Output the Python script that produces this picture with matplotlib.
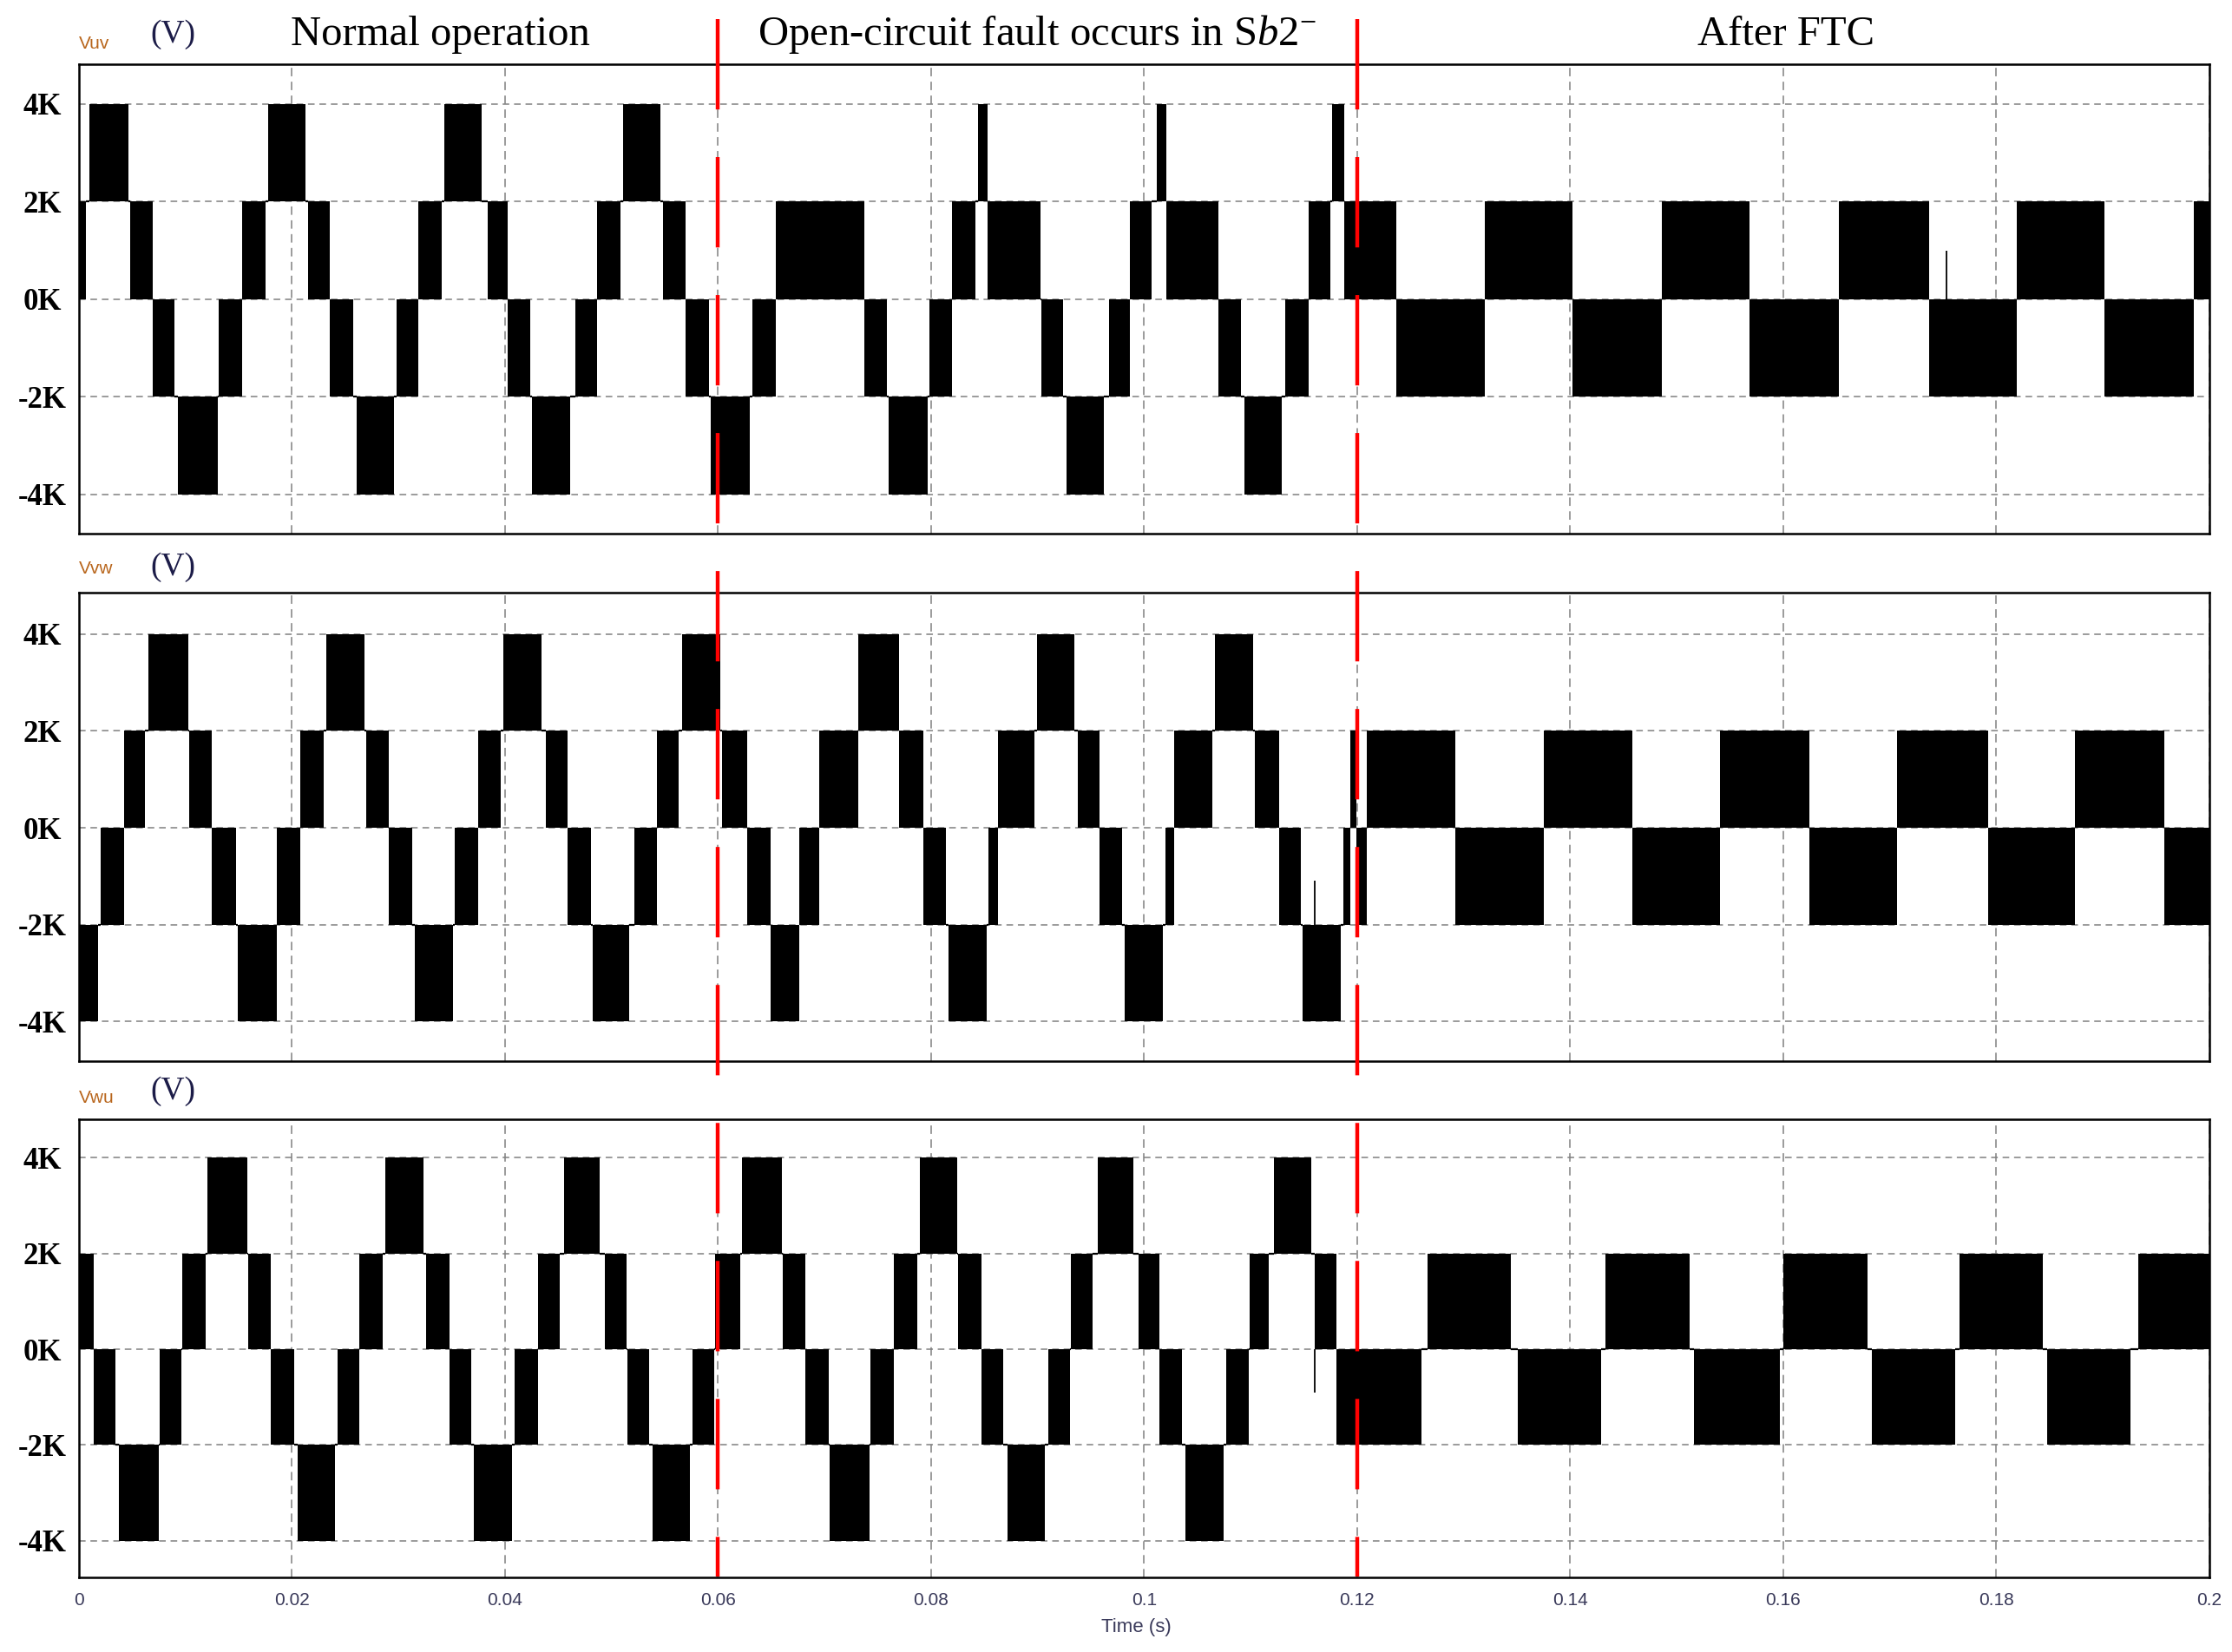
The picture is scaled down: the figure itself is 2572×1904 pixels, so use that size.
import numpy as np
import matplotlib
matplotlib.use('Agg')
import matplotlib.pyplot as plt
from matplotlib import transforms
from matplotlib.lines import Line2D


plt.rcParams['lines.scale_dashes'] = False
plt.rcParams['mathtext.fontset'] = 'custom'
plt.rcParams['mathtext.rm'] = 'Liberation Serif'
plt.rcParams['mathtext.it'] = 'Liberation Serif:italic'

# PWM switching bands: (start ms, end ms, low kV, high kV)
vuv_blocks = [
    (0.0, 0.67, 0, 2), (1.03, 4.69, 2, 4), (4.83, 7.0, 0, 2), (7.0, 8.98, -2, 0),
    (9.29, 13.05, -4, -2), (13.14, 15.33, -2, 0), (15.33, 17.52, 0, 2), (17.78, 21.31, 2, 4),
    (21.58, 23.57, 0, 2), (23.57, 25.78, -2, 0), (26.09, 29.62, -4, -2), (29.85, 31.88, -2, 0),
    (31.88, 34.05, 0, 2), (34.36, 37.85, 2, 4), (38.43, 40.3, 0, 2), (40.3, 42.36, -2, 0),
    (42.58, 46.16, -4, -2), (46.6, 48.7, -2, 0), (48.7, 50.85, 0, 2), (51.07, 54.6, 2, 4),
    (54.87, 56.97, 0, 2), (56.97, 59.2, -2, 0), (59.3, 63.03, -4, -2), (63.25, 65.45, -2, 0),
    (65.45, 73.72, 0, 2), (73.72, 75.9, -2, 0), (76.04, 79.73, -4, -2), (79.82, 81.95, -2, 0),
    (81.95, 84.19, 0, 2), (84.45, 85.35, 2, 4), (85.35, 90.29, 0, 2), (90.38, 92.43, -2, 0),
    (92.69, 96.21, -4, -2), (96.7, 98.68, -2, 0), (98.68, 100.67, 0, 2), (101.16, 102.1, 2, 4),
    (102.1, 106.95, 0, 2), (106.95, 109.13, -2, 0), (109.4, 112.96, -4, -2), (113.23, 115.43, -2, 0),
    (115.43, 117.46, 0, 2), (117.68, 118.8, 2, 4), (118.8, 123.67, 0, 2), (123.67, 132.0, -2, 0),
    (132.0, 140.25, 0, 2), (140.25, 148.6, -2, 0), (148.6, 156.8, 0, 2), (156.8, 165.2, -2, 0),
    (165.2, 173.7, 0, 2), (173.7, 181.9, -2, 0), (181.9, 190.15, 0, 2), (190.15, 198.5, -2, 0),
    (198.5, 200.0, 0, 2),
]

vvw_blocks = [
    (0.0, 1.79, -4, -2), (2.06, 4.25, -2, 0), (4.25, 6.26, 0, 2), (6.52, 10.28, 2, 4),
    (10.37, 12.5, 0, 2), (12.5, 14.75, -2, 0), (14.97, 18.59, -4, -2), (18.63, 20.8, -2, 0),
    (20.8, 23.01, 0, 2), (23.28, 26.85, 2, 4), (27.03, 29.1, 0, 2), (29.1, 31.28, -2, 0),
    (31.55, 35.12, -4, -2), (35.34, 37.5, -2, 0), (37.5, 39.59, 0, 2), (39.86, 43.43, 2, 4),
    (43.83, 45.9, 0, 2), (45.9, 48.08, -2, 0), (48.26, 51.7, -4, -2), (52.14, 54.3, -2, 0),
    (54.3, 56.34, 0, 2), (56.61, 60.2, 2, 4), (60.41, 62.75, 0, 2), (62.75, 64.94, -2, 0),
    (64.99, 67.65, -4, -2), (67.65, 69.5, -2, 0), (69.5, 73.18, 0, 2), (73.18, 77.02, 2, 4),
    (77.02, 79.25, 0, 2), (79.25, 81.43, -2, 0), (81.69, 85.26, -4, -2), (85.39, 86.33, -2, 0),
    (86.33, 89.71, 0, 2), (89.93, 93.5, 2, 4), (93.76, 95.86, 0, 2), (95.86, 97.91, -2, 0),
    (98.17, 101.74, -4, -2), (102.0, 102.8, -2, 0), (102.8, 106.41, 0, 2), (106.64, 110.2, 2, 4),
    (110.42, 112.65, 0, 2), (112.65, 114.7, -2, 0), (114.88, 118.44, -4, -2), (118.7, 119.4, -2, 0),
    (119.4, 119.9, 0, 2), (119.9, 120.9, -2, 0), (120.9, 129.25, 0, 2), (129.25, 137.55, -2, 0),
    (137.55, 145.8, 0, 2), (145.8, 154.1, -2, 0), (154.1, 162.45, 0, 2), (162.45, 170.7, -2, 0),
    (170.7, 179.2, 0, 2), (179.2, 187.4, -2, 0), (187.4, 195.8, 0, 2), (195.8, 200.0, -2, 0),
]

vwu_blocks = [
    (0.0, 1.39, 0, 2), (1.39, 3.49, -2, 0), (3.75, 7.51, -4, -2), (7.6, 9.65, -2, 0),
    (9.74, 11.97, 0, 2), (12.11, 15.82, 2, 4), (15.91, 18.07, 0, 2), (18.07, 20.24, -2, 0),
    (20.55, 24.08, -4, -2), (24.31, 26.32, -2, 0), (26.32, 28.51, 0, 2), (28.82, 32.35, 2, 4),
    (32.62, 34.83, 0, 2), (34.83, 36.82, -2, 0), (37.09, 40.66, -4, -2), (40.93, 43.1, -2, 0),
    (43.1, 45.13, 0, 2), (45.53, 48.93, 2, 4), (49.37, 51.43, 0, 2), (51.52, 53.57, -2, 0),
    (53.84, 57.37, -4, -2), (57.64, 59.65, -2, 0), (59.78, 62.14, 0, 2), (62.23, 66.01, 2, 4),
    (66.1, 68.24, 0, 2), (68.24, 70.42, -2, 0), (70.51, 74.25, -4, -2), (74.3, 76.5, -2, 0),
    (76.5, 78.71, 0, 2), (78.98, 82.49, 2, 4), (82.58, 84.75, 0, 2), (84.75, 86.82, -2, 0),
    (87.22, 90.73, -4, -2), (91.0, 93.05, -2, 0), (93.1, 95.19, 0, 2), (95.68, 98.98, 2, 4),
    (99.47, 101.47, 0, 2), (101.47, 103.56, -2, 0), (103.88, 107.48, -4, -2), (107.71, 109.8, -2, 0),
    (109.89, 111.67, 0, 2), (112.2, 115.72, 2, 4), (115.99, 118.04, 0, 2), (118.04, 126.06, -2, 0),
    (126.6, 134.41, 0, 2), (135.09, 142.9, -2, 0), (143.3, 151.2, 0, 2), (151.6, 159.7, -2, 0),
    (160.0, 167.9, 0, 2), (168.3, 176.1, -2, 0), (176.5, 184.4, 0, 2), (184.8, 192.6, -2, 0),
    (193.3, 200.0, 0, 2),
]

# single glitches: (time ms, from kV, to kV)
vuv_spikes = [(175.3, 0, 1.0)]
vvw_spikes = [(116.0, -2, -1.1)]
vwu_spikes = [(116.0, 0, -0.9)]

channel_names = ['Vuv', 'Vvw', 'Vwu']
y_ticks = [4000, 2000, 0, -2000, -4000]
y_tick_labels = ['4K', '2K', '0K', '-2K', '-4K']
x_ticks = [0, 0.02, 0.04, 0.06, 0.08, 0.1, 0.12, 0.14, 0.16, 0.18, 0.2]
event_times = [0.06, 0.12]
stage_labels = ['Normal operation', r'Open-circuit fault occurs in S$b2^{-}$', 'After FTC']
stage_x = [0.1971, 0.4646, 0.8002]


def draw_pwm(ax, blocks, spikes):
    t0 = np.array([b[0] for b in blocks]) / 1000
    t1 = np.array([b[1] for b in blocks]) / 1000
    lo = np.array([b[2] for b in blocks]) * 1000.0
    hi = np.array([b[3] for b in blocks]) * 1000.0
    ax.bar(t0, hi - lo, width=t1 - t0, bottom=lo, align='edge',
           color='black', linewidth=0, zorder=3)
    # output holds the shared level between two switching bands
    for i in range(len(blocks) - 1):
        if t0[i + 1] > t1[i]:
            shared = {lo[i], hi[i]} & {lo[i + 1], hi[i + 1]}
            level = shared.pop() if shared else (hi[i] + lo[i + 1]) / 2
            ax.hlines(level, t1[i], t0[i + 1], color='black', lw=1.6, zorder=3)
    for t, a, b in spikes:
        ax.vlines(t / 1000, a * 1000, b * 1000, color='black', lw=1.3, zorder=3)


fig = plt.figure(figsize=(25.72, 19.04), dpi=100)

axes_rect = [
    [0.0352, 0.6770, 0.9547, 0.2841],
    [0.0352, 0.3577, 0.9547, 0.2836],
    [0.0352, 0.0452, 0.9547, 0.2773],
]
y_limits = [(-4807, 4816), (-4815, 4854), (-4763, 4804)]
name_y = [0.9706, 0.6528, 0.3325]
unit_y = [0.9790, 0.6565, 0.3393]

all_blocks = [vuv_blocks, vvw_blocks, vwu_blocks]
all_spikes = [vuv_spikes, vvw_spikes, vwu_spikes]

axes = []
for i in range(3):
    ax = fig.add_axes(axes_rect[i])
    draw_pwm(ax, all_blocks[i], all_spikes[i])
    ax.set_xlim(0, 0.2)
    ax.set_ylim(*y_limits[i])
    ax.set_xticks(x_ticks)
    ax.set_yticks(y_ticks)
    ax.set_yticklabels(y_tick_labels, fontsize=25, family='Liberation Serif',
                       fontweight='bold', color='black')
    for lbl in ax.get_yticklabels():
        lbl.set_horizontalalignment('center')
    ax.tick_params(axis='y', length=0, pad=30)
    ax.tick_params(axis='x', length=0, pad=12)
    if i < 2:
        ax.set_xticklabels([])
    else:
        ax.set_xticklabels(['%g' % v for v in x_ticks], fontsize=15,
                           family='Liberation Sans', color='#3a3a5a')
    ax.set_axisbelow(True)
    ax.xaxis.grid(True, color='#808080', linestyle=(0, (7, 4.5)), linewidth=1.1)
    ax.yaxis.grid(True, color='#808080', linestyle=(0, (5.5, 4)), linewidth=1.1)
    for sp in ax.spines.values():
        sp.set_linewidth(1.8)
        sp.set_color('black')

    fig.text(0.0352, name_y[i], channel_names[i], fontsize=15, family='Liberation Sans',
             color='#b8651b', ha='left', va='baseline')
    fig.text(0.0774, unit_y[i], '(V)', fontsize=27, family='Liberation Serif',
             color='#1c1c48', ha='center', va='center')
    axes.append(ax)

for x, s in zip(stage_x, stage_labels):
    fig.text(x, 0.9727, s, fontsize=35, family='Liberation Serif', color='black',
             ha='center', va='baseline')

fig.text(0.509, 0.0152, 'Time (s)', fontsize=16, family='Liberation Sans',
         color='#3a3a5a', ha='center', va='center')

# red dashed markers for fault instant and FTC activation, drawn across all panels
trans = transforms.blended_transform_factory(axes[0].transData, fig.transFigure)
for t in event_times:
    line = Line2D([t, t], [0.9884, 0.0457], transform=trans, color='#ff0000',
                  linewidth=3.2, linestyle=(0, (75, 39.5)), solid_capstyle='butt',
                  dash_capstyle='butt', zorder=10)
    fig.add_artist(line)

fig.savefig('out.png', dpi=100)
